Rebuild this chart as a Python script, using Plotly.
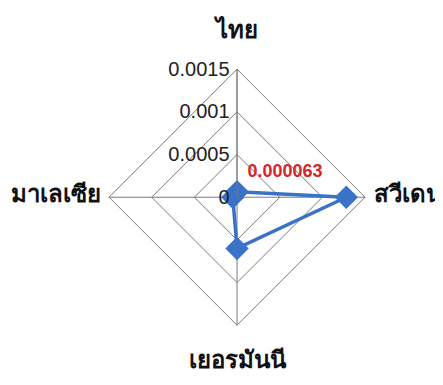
import plotly.graph_objects as go

countries = ["ไทย", "สวีเดน", "เยอรมันนี", "มาเลเซีย"]
values = [0.000063, 0.00128, 0.00060, 0.00005]
point_label = "0.000063"
radial_ticks = [0, 0.0005, 0.001, 0.0015]
radial_labels = ["0", "0.0005", "0.001", "0.0015"]

big = "<span style='font-size:24px'><b>{}</b></span>"
angular_labels = [
    big.format(countries[0]) + "<br> ",
    big.format(countries[1]),
    " <br>" + big.format(countries[2]),
    big.format(countries[3]),
]

blue = "#3a72c8"

fig = go.Figure()
fig.add_trace(go.Scatterpolar(
    r=values + values[:1],
    theta=countries + countries[:1],
    mode="lines+markers",
    line=dict(color=blue, width=3.5),
    marker=dict(symbol="diamond", size=18, color=blue),
    showlegend=False,
))
# data label on the Thai point (invisible marker just offsets the text)
fig.add_trace(go.Scatterpolar(
    r=values[:1],
    theta=countries[:1],
    mode="markers+text",
    text=[f"<b>{point_label}</b>"],
    textposition="top right",
    marker=dict(size=15, opacity=0),
    textfont=dict(color="#d4262b", size=18, family="Liberation Sans"),
    hoverinfo="skip",
    showlegend=False,
))

fig.update_layout(
    width=443, height=385,
    margin=dict(l=0, r=0, t=0, b=0),
    paper_bgcolor="white",
    font=dict(family="Liberation Sans", color="#222"),
    polar=dict(
        domain=dict(x=[0.228, 0.806], y=[0.176, 0.841]),
        gridshape="linear",
        bgcolor="white",
        radialaxis=dict(
            range=[0, 0.0015],
            tickmode="array",
            tickvals=radial_ticks,
            ticktext=radial_labels,
            angle=90,
            tickangle=90,
            side="counterclockwise",
            showline=True,
            linecolor="#7a7a7a",
            linewidth=1,
            gridcolor="#7a7a7a",
            gridwidth=1,
            ticks="",
            tickfont=dict(size=20, color="#222"),
        ),
        angularaxis=dict(
            direction="clockwise",
            rotation=90,
            tickmode="array",
            tickvals=countries,
            ticktext=angular_labels,
            showline=True,
            linecolor="#7a7a7a",
            linewidth=1,
            gridcolor="#7a7a7a",
            gridwidth=1,
            ticks="outside",
            ticklen=5,
            tickcolor="rgba(0,0,0,0)",
            tickfont=dict(size=15, color="#111", family="Noto Sans"),
        ),
    ),
)

fig.write_html("out.html")
